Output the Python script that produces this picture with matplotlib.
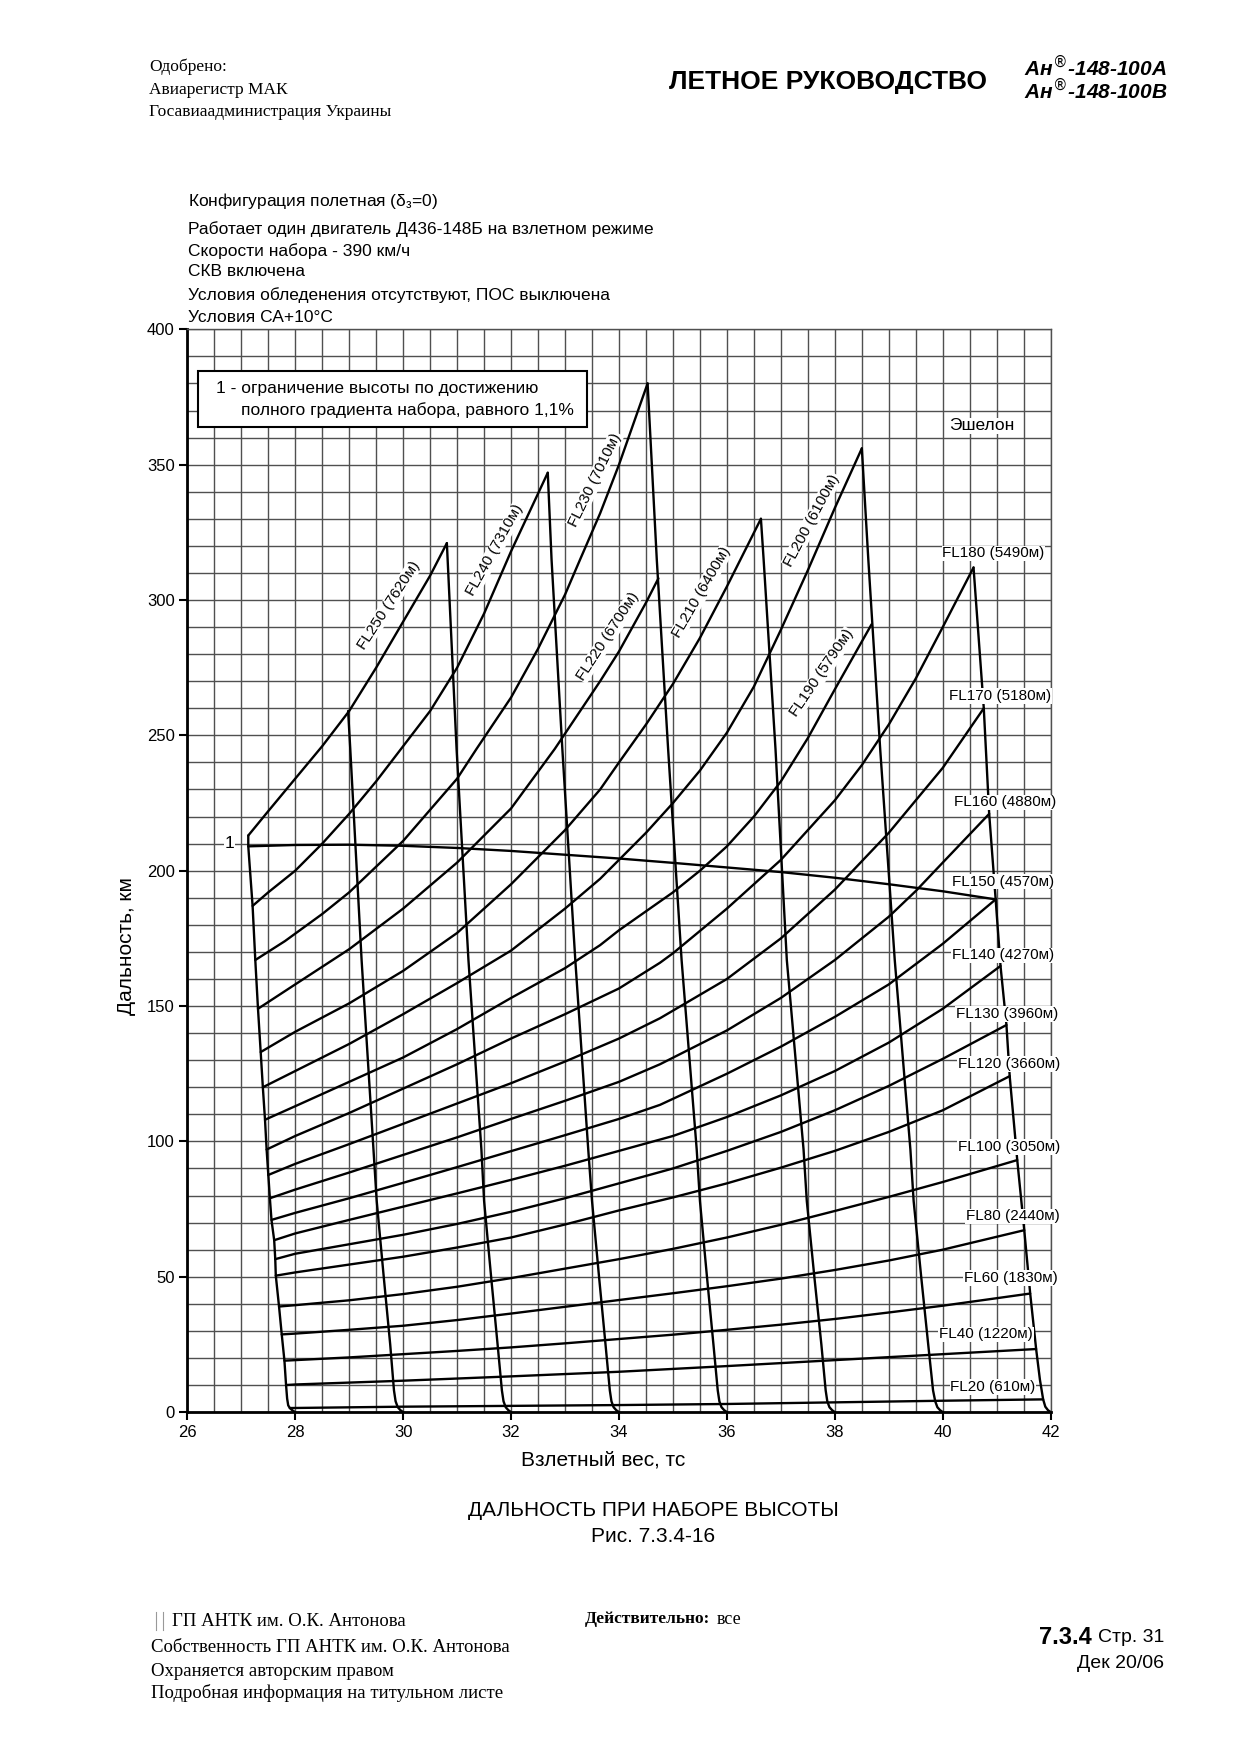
import matplotlib.pyplot as plt
import numpy as np

plt.rcParams['font.family'] = ['Liberation Sans', 'DejaVu Sans']

# altitude curves: (take-off weight, range)
fl250 = [(27.13, 213), (27.5, 222), (28, 234), (28.5, 246), (29, 259), (29.5, 275), (30, 292), (30.5, 309), (30.81, 321)]
fl240 = [(27.21, 187), (27.5, 192), (28, 200), (28.5, 210), (29, 221), (29.5, 233), (30, 246), (30.5, 259), (31, 275), (31.5, 295), (32, 318), (32.68, 347)]
fl230 = [(27.26, 167), (27.81, 174), (28.5, 184), (29, 192), (30, 211), (31, 234), (31.36, 245), (32, 264), (32.5, 282), (33, 302), (33.28, 315), (33.65, 332), (34, 350), (34.53, 380)]
fl220 = [(27.31, 149), (28, 158), (29, 171), (30, 186), (31, 203), (32, 223), (32.81, 245), (33.65, 270), (34, 281), (34.5, 299), (34.73, 308)]
fl210 = [(27.36, 133), (28, 140.5), (29, 151), (30, 163), (31, 177), (32, 195), (33, 215), (33.65, 230), (34, 240), (34.5, 254), (35, 269), (35.5, 286), (36, 305), (36.63, 330)]
fl200 = [(27.4, 120), (28, 126), (29, 136), (30, 147), (31, 158.5), (32, 170.5), (33, 186), (33.65, 197), (34, 204), (34.5, 214), (35, 225), (35.5, 237), (36, 251), (36.5, 268), (37, 289), (37.5, 311), (38, 334), (38.5, 356)]
fl190 = [(27.44, 108), (28, 113), (29, 122), (30, 131), (31, 141.5), (32, 153), (33, 164), (33.65, 172.5), (34, 178), (34.5, 185), (35, 192), (35.5, 200), (36, 209), (36.5, 220), (37, 233), (37.5, 249), (38, 267), (38.68, 291)]
fl180 = [(27.47, 97), (28, 102), (29, 110.5), (30, 119.5), (31, 128.5), (32, 138), (33, 147), (34, 156.5), (34.76, 166), (35, 169.5), (36, 186), (37, 204), (38, 226), (38.5, 239), (39, 254), (39.5, 271), (40, 290), (40.57, 312)]
fl170 = [(27.5, 87.6), (28, 91.7), (29, 99), (30, 106.5), (31, 114), (32, 121.5), (33, 129.5), (34, 138), (34.76, 145.5), (36, 160), (37, 175), (38, 193), (39, 214), (40, 238), (40.76, 260)]
fl160 = [(27.53, 79), (28, 82.2), (29, 88.5), (30, 95), (31, 101.5), (32, 108.3), (33, 115), (34, 122), (34.76, 128.5), (36, 141), (37, 153), (38, 167), (39, 183), (39.5, 192.5), (40, 203), (40.86, 221)]
fl150 = [(27.56, 71), (28, 73.6), (29, 79), (30, 84.7), (31, 90.5), (32, 96.4), (33, 102.3), (34, 108.3), (34.76, 113.5), (36, 125), (37, 135), (38, 146), (39, 158), (40, 173), (40.98, 189.4)]
fl140 = [(27.61, 63.5), (28, 66), (29, 71), (30, 75.9), (31, 80.8), (32, 85.8), (33, 91), (34, 96.5), (35, 102), (36, 109), (37, 117), (38, 126), (39, 136.5), (40, 149), (41.07, 164.8)]
fl130 = [(27.63, 56.5), (28, 58.5), (29, 62), (30, 65.5), (31, 69.5), (32, 74), (33, 79), (34, 84.5), (35, 90), (36, 96.5), (37, 103.5), (38, 111.5), (39, 120.5), (40, 130.5), (41.18, 143)]
fl120 = [(27.64, 50.4), (28, 51.6), (29, 54.5), (30, 57.4), (31, 60.8), (32, 64.5), (33, 69.3), (34, 74.5), (35, 79.3), (36, 84.5), (37, 90.3), (38, 96.5), (39, 103.5), (40, 111.5), (41.24, 124.1)]
fl100 = [(27.7, 39), (28, 39.5), (29, 41.3), (30, 43.6), (31, 46.3), (32, 49.5), (33, 53), (34, 56.5), (35, 60.3), (36, 64.5), (37, 69.2), (38, 74.3), (39, 79.5), (40, 85), (41.38, 93.1)]
fl80 = [(27.75, 28.7), (28, 29), (29, 30.4), (30, 31.9), (31, 34), (32, 36.4), (33, 38.9), (34, 41.4), (35, 43.9), (36, 46.5), (37, 49.3), (38, 52.5), (39, 56), (40, 60), (41.51, 67.2)]
fl60 = [(27.8, 19), (28, 19.2), (29, 20.2), (30, 21.4), (31, 22.6), (32, 23.9), (33, 25.4), (34, 27), (35, 28.6), (36, 30.4), (37, 32.3), (38, 34.4), (39, 36.8), (40, 39.3), (41.62, 43.8)]
fl40 = [(27.83, 10), (28, 10.2), (30, 11.6), (32, 13.2), (34, 14.9), (36, 17), (38, 19.2), (40, 21.4), (41.73, 23.3)]
fl20 = [(27.9, 1.5), (30, 2.0), (32, 2.3), (34, 2.6), (36, 3.0), (38, 3.6), (40, 4.2), (41.86, 4.7)]

# weight lines, ending on the axis at 28 ... 42 tc
wl28 = [(27.13, 213), (27.13, 209), (27.21, 187), (27.26, 167), (27.31, 149), (27.36, 133), (27.4, 120), (27.44, 108), (27.47, 97),
        (27.5, 88), (27.53, 79), (27.56, 71), (27.61, 63.5), (27.63, 56.5), (27.64, 50.4), (27.7, 39), (27.75, 28.7), (27.8, 19),
        (27.83, 10), (27.85, 5), (27.87, 2.5), (27.9, 1.5), (27.95, 0.6), (28, 0)]
wl30 = [(28.98, 259), (29.02, 245), (29.23, 167), (29.45, 97), (29.51, 78), (29.64, 50), (29.76, 25), (29.83, 8), (29.86, 4), (29.9, 1.8), (29.95, 0.7), (30, 0)]
wl32 = [(30.81, 321), (30.99, 245), (31.21, 167), (31.45, 97), (31.5, 78), (31.63, 50), (31.75, 25), (31.83, 8), (31.86, 4), (31.9, 1.8), (31.95, 0.7), (32, 0)]
wl34 = [(32.68, 347), (32.75, 315), (32.95, 245), (33.19, 167), (33.43, 97), (33.5, 78), (33.63, 50), (33.75, 25), (33.83, 8), (33.86, 4), (33.9, 1.8), (33.95, 0.7), (34, 0)]
wl36 = [(34.53, 380), (34.7, 315), (34.91, 245), (35.16, 167), (35.44, 97), (35.5, 78), (35.63, 50), (35.75, 25), (35.83, 8), (35.86, 4), (35.9, 1.8), (35.95, 0.7), (36, 0)]
wl38 = [(36.63, 330), (36.68, 315), (36.9, 245), (37.11, 167), (37.42, 97), (37.48, 78), (37.62, 50), (37.75, 25), (37.83, 8), (37.86, 4), (37.9, 1.8), (37.95, 0.7), (38, 0)]
wl40 = [(38.5, 356), (38.62, 315), (38.84, 245), (39.11, 167), (39.4, 97), (39.46, 78), (39.6, 50), (39.73, 25), (39.82, 8), (39.86, 4), (39.9, 1.8), (39.95, 0.7), (40, 0)]
wl42 = [(40.57, 312), (40.76, 260), (40.86, 221), (40.98, 189.4), (41.07, 164.8), (41.18, 143), (41.24, 124.1), (41.38, 93.1), (41.51, 67.2),
        (41.62, 43.8), (41.73, 23.3), (41.8, 12), (41.86, 4.7), (41.9, 2), (41.95, 0.7), (42, 0)]

# limit 1 (full climb gradient 1.1 %)
limit1 = [(27.13, 209), (28, 209.5), (29, 209.6), (30, 209.2), (31, 208.4), (32, 207.3), (33, 205.9), (34, 204.5), (35, 202.9),
          (36, 201.2), (37, 199.5), (38, 197.4), (39, 195), (40, 192.4), (40.98, 189.4)]

# labels at the right side: text, x, y
right_labels = [("FL180 (5490м)", 40.94, 317.2), ("FL170 (5180м)", 41.06, 264.5), ("FL160 (4880м)", 41.15, 225.2),
                ("FL150 (4570м)", 41.12, 196), ("FL140 (4270м)", 41.12, 168.7), ("FL130 (3960м)", 41.19, 147),
                ("FL120 (3660м)", 41.23, 128.5), ("FL100 (3050м)", 41.23, 98), ("FL80 (2440м)", 41.29, 72.3),
                ("FL60 (1830м)", 41.26, 49.5), ("FL40 (1220м)", 40.8, 28.7), ("FL20 (610м)", 40.93, 9.2)]
# labels along the curves: text, x, y, angle
slanted_labels = [("FL250 (7620м)", 29.73, 298, 57), ("FL240 (7310м)", 31.7, 318.5, 61), ("FL230 (7010м)", 33.55, 344.5, 64),
                  ("FL220 (6700м)", 33.8, 286.5, 57), ("FL210 (6400м)", 35.53, 303, 60), ("FL200 (6100м)", 37.57, 329.5, 62),
                  ("FL190 (5790м)", 37.76, 273, 56)]

conditions = ["Конфигурация полетная ($\\mathregular{\\delta_з}$=0)",
              "Работает один двигатель Д436-148Б на взлетном режиме",
              "Скорости набора - 390 км/ч",
              "СКВ включена",
              "Условия обледенения отсутствуют, ПОС выключена",
              "Условия СА+10°С"]

W, H = 1240, 1755
fig = plt.figure(figsize=(12.4, 17.55), dpi=100)


def fx(px):
    return px / W


def fy(py):
    return 1 - py / H


ax = fig.add_axes([fx(187.3), fy(1412.1), 863.4 / W, 1082.8 / H])
ax.set_xlim(26, 42)
ax.set_ylim(0, 400)

gridc = '#505050'
ax.set_xticks(np.arange(26, 43, 2))
ax.set_yticks(np.arange(0, 401, 50))
ax.set_xticks(np.arange(26, 42.01, 0.5), minor=True)
ax.set_yticks(np.arange(0, 401, 10), minor=True)
ax.grid(which='both', color=gridc, lw=1.0)
ax.set_axisbelow(True)
ax.tick_params(which='major', direction='out', length=6, width=1.5, labelsize=12, pad=3)
ax.tick_params(which='minor', length=0)
for s in ['left', 'bottom']:
    ax.spines[s].set_linewidth(2)
for s in ['top', 'right']:
    ax.spines[s].set_color(gridc)
    ax.spines[s].set_linewidth(1.0)

curves = [fl250, fl240, fl230, fl220, fl210, fl200, fl190, fl180, fl170, fl160, fl150, fl140, fl130, fl120, fl100, fl80, fl60, fl40, fl20,
          wl28, wl30, wl32, wl34, wl36, wl38, wl40, wl42, limit1]
for pts in curves:
    xs, ys = zip(*pts)
    ax.plot(xs, ys, color='black', lw=1.7, zorder=3, solid_joinstyle='round', solid_capstyle='round')

for txt, x, y in right_labels:
    ax.text(x, y, txt, fontsize=11, ha='center', va='center', zorder=5,
            bbox=dict(fc='white', ec='none', pad=0.5))
for txt, x, y, a in slanted_labels:
    ax.text(x, y, txt, fontsize=11, ha='center', va='center', rotation=a, rotation_mode='anchor', zorder=5,
            bbox=dict(fc='white', ec='none', pad=0.5))

ax.text(26.78, 210, "1", fontsize=12.5, ha='center', va='center', zorder=5, bbox=dict(fc='white', ec='none', pad=0.3))
ax.text(40.72, 364.3, "Эшелон", fontsize=12.5, ha='center', va='center', zorder=5, bbox=dict(fc='white', ec='none', pad=0.5))

box = plt.Rectangle((26.2, 363.8), 7.21, 20.9, fc='white', ec='black', lw=1.5, zorder=5)
ax.add_patch(box)
ax.text(26.54, 378, "1 - ограничение высоты по достижению", fontsize=12.5, ha='left', va='center', zorder=6)
ax.text(27.0, 370.2, "полного градиента набора, равного 1,1%", fontsize=12.5, ha='left', va='center', zorder=6)

fig.text(fx(603), fy(1460), "Взлетный вес, тс", fontsize=15, ha='center', va='center')
fig.text(fx(126), fy(946), "Дальность, км", fontsize=15, ha='center', va='center', rotation=90)

# conditions above the chart
for txt, py in zip(conditions, [201, 229, 251, 272, 295, 317]):
    fig.text(fx(188), fy(py), txt, fontsize=12.5, ha='left', va='center')

# page header
serif = ['Liberation Serif', 'DejaVu Serif']
for txt, py in zip(["Одобрено:", "Авиарегистр МАК", "Госавиаадминистрация Украины"], [67, 90, 112]):
    fig.text(fx(149), fy(py), txt, fontsize=12.5, family=serif, ha='left', va='center')
fig.text(fx(828), fy(82), "ЛЕТНОЕ РУКОВОДСТВО", fontsize=19, weight='bold', ha='center', va='center')
fig.text(fx(1024), fy(67), "Ан$^{\\circledR}$-148-100А", fontsize=15, weight='bold', style='italic', ha='left', va='center')
fig.text(fx(1024), fy(90), "Ан$^{\\circledR}$-148-100В", fontsize=15, weight='bold', style='italic', ha='left', va='center')

# caption
fig.text(fx(653), fy(1511), "ДАЛЬНОСТЬ ПРИ НАБОРЕ ВЫСОТЫ", fontsize=15, ha='center', va='center')
fig.text(fx(653), fy(1536), "Рис. 7.3.4-16", fontsize=15, ha='center', va='center')

# page footer
fig.add_artist(plt.Line2D([fx(156), fx(156)], [fy(1612), fy(1630)], color='#999999', lw=0.8))
fig.add_artist(plt.Line2D([fx(163), fx(163)], [fy(1612), fy(1630)], color='#999999', lw=0.8))
fig.text(fx(172), fy(1622), "ГП АНТК им. О.К. Антонова", fontsize=13.5, family=serif, ha='left', va='center')
for txt, py in zip(["Собственность ГП АНТК им. О.К. Антонова", "Охраняется авторским правом",
                    "Подробная информация на титульном листе"], [1648, 1671, 1693]):
    fig.text(fx(151), fy(py), txt, fontsize=13.5, family=serif, ha='left', va='center')
valid = fig.text(fx(585), fy(1619), "Действительно:", fontsize=12.5, family=serif, weight='bold', ha='left', va='center')
ax.annotate("все", xy=(1, 0.5), xycoords=valid, xytext=(5, 0), textcoords='offset points',
            fontsize=13, family=serif, ha='left', va='center', annotation_clip=False)
fig.text(fx(1164), fy(1637), "Стр. 31", fontsize=14, ha='right', va='center')
fig.text(fx(1092), fy(1637), "7.3.4", fontsize=17, weight='bold', ha='right', va='center')
fig.text(fx(1164), fy(1663), "Дек 20/06", fontsize=14, ha='right', va='center')

fig.savefig("out.png", dpi=100, facecolor='white')
